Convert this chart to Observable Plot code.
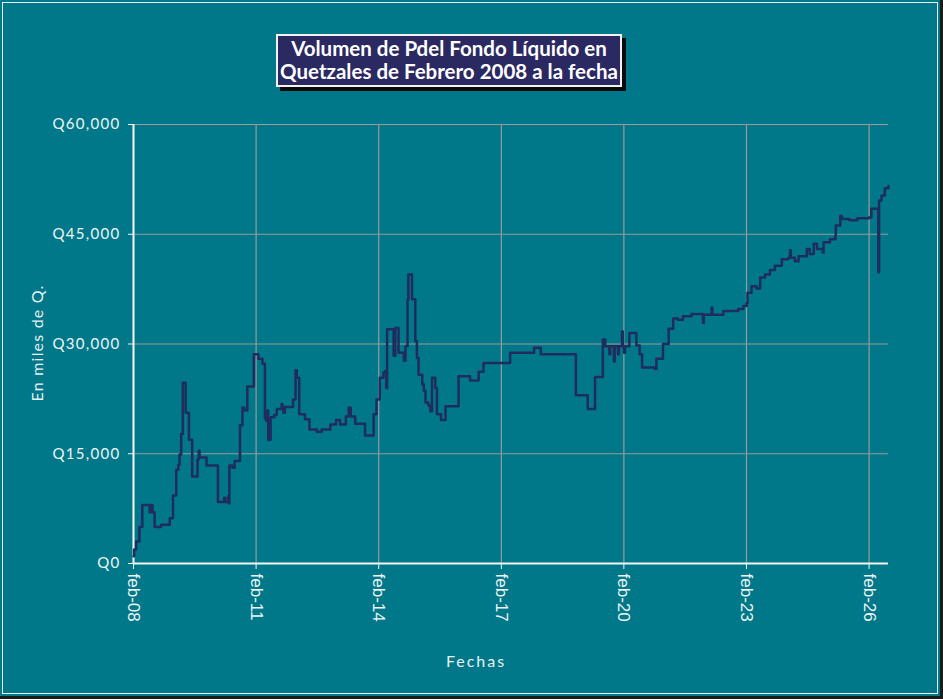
<!DOCTYPE html>
<html>
<head>
<meta charset="utf-8">
<script src="https://cdn.jsdelivr.net/npm/d3@7"></script>
<script src="https://cdn.jsdelivr.net/npm/@observablehq/plot@0.6"></script>
<style>
  html, body { margin: 0; padding: 0; background: #1a1a1a; }
  #frame { position: absolute; left: 0; top: 0; width: 940px; height: 696px; background: #007889; overflow: hidden; }
  #inner { position: absolute; left: 2px; top: 2px; width: 934px; height: 690px; border: 1px solid #e8f0f0; }
  #chart { position: absolute; left: 0; top: 0; }
  #title { position: absolute; left: 276px; top: 34px; width: 342px; height: 48px; background: #2b2961;
           border: 2px solid #f2f2f2; box-shadow: 4px 4px 0 #0a0a0a; color: #fff;
           font-family: Lato, "Open Sans", sans-serif; font-weight: 700; font-size: 20.5px; line-height: 23px;
           text-align: center; padding-top: 1px; white-space: nowrap; }
  #ylabel { position: absolute; left: 36px; top: 343px; transform: translate(-50%, -50%) rotate(-90deg);
            color: #e8f2f2; font-family: Lato, sans-serif; font-size: 16px; letter-spacing: 1.2px; white-space: nowrap; }
  #xlabel { position: absolute; left: 476px; top: 660px; transform: translate(-50%, -50%);
            color: #e8f2f2; font-family: Lato, sans-serif; font-size: 16px; letter-spacing: 2px; }
</style>
</head>
<body>
<div id="frame">
  <div id="inner"></div>
  <div id="chart"></div>
  <div id="title">Volumen de Pdel Fondo Líquido en<br>Quetzales de Febrero 2008 a la fecha</div>
  <div id="ylabel">En miles de Q.</div>
  <div id="xlabel">Fechas</div>
</div>
<script>
// Decimal years (time) and fund volume in thousands of quetzales
const years = [
  2008.085, 2008.10, 2008.15, 2008.23, 2008.30, 2008.48, 2008.53, 2008.55, 2008.60, 2008.76,
  2008.97, 2009.05, 2009.13, 2009.18, 2009.21, 2009.25, 2009.29, 2009.36, 2009.44, 2009.52,
  2009.65, 2009.68, 2009.70, 2009.87, 2010.15, 2010.30, 2010.33, 2010.40, 2010.42, 2010.43,
  2010.50, 2010.56, 2010.69, 2010.75, 2010.80, 2010.87, 2011.03, 2011.14, 2011.24, 2011.30,
  2011.33, 2011.36, 2011.38, 2011.44, 2011.53, 2011.59, 2011.71, 2011.73, 2011.75, 2011.79,
  2011.99, 2012.05, 2012.08, 2012.14, 2012.28, 2012.39, 2012.57, 2012.69, 2012.90, 2013.04,
  2013.14, 2013.28, 2013.35, 2013.40, 2013.51, 2013.75, 2013.96, 2014.03, 2014.11, 2014.20,
  2014.24, 2014.27, 2014.29, 2014.45, 2014.49, 2014.57, 2014.70, 2014.74, 2014.79, 2014.81,
  2014.90, 2014.98, 2015.02, 2015.06, 2015.15, 2015.19, 2015.23, 2015.30, 2015.35, 2015.39,
  2015.47, 2015.51, 2015.61, 2015.72, 2016.04, 2016.32, 2016.53, 2016.65, 2017.30, 2017.89,
  2018.05, 2018.91, 2019.20, 2019.38, 2019.57, 2019.63, 2019.73, 2019.75, 2019.84, 2019.86,
  2019.94, 2019.96, 2020.04, 2020.06, 2020.09, 2020.11, 2020.22, 2020.39, 2020.47, 2020.53,
  2020.84, 2020.88, 2021.04, 2021.18, 2021.29, 2021.40, 2021.53, 2021.74, 2022.02, 2022.04,
  2022.23, 2022.25, 2022.52, 2022.88, 2023.01, 2023.09, 2023.11, 2023.21, 2023.33, 2023.42,
  2023.54, 2023.66, 2023.78, 2023.95, 2024.11, 2024.15, 2024.17, 2024.27, 2024.36, 2024.56,
  2024.63, 2024.73, 2024.81, 2024.95, 2024.97, 2025.13, 2025.26, 2025.27, 2025.38, 2025.42,
  2025.60, 2025.80, 2026.08, 2026.14, 2026.31, 2026.33, 2026.39, 2026.47, 2026.56
];
const volumes = [
  1000, 1900, 3000, 5000, 8000, 7000, 8000, 7000, 5000, 5300,
  6200, 9300, 12800, 13500, 14900, 17700, 24700, 20600, 16900, 11900,
  14200, 15400, 14500, 13400, 8400, 9000, 8400, 9200, 8200, 13400,
  13100, 14000, 18900, 21300, 20900, 24200, 28600, 28000, 27300, 19900,
  19500, 20900, 16900, 20000, 20300, 21100, 21800, 21100, 20600, 21400,
  22400, 26400, 25400, 20400, 19700, 18300, 18000, 18300, 19000, 19600,
  19000, 20100, 21300, 20100, 19100, 17500, 20400, 22400, 25400, 26100,
  26300, 24000, 32000, 28400, 32200, 28800, 27700, 29700, 36000, 39500,
  36100, 30400, 28100, 25800, 24500, 23600, 22000, 21600, 20800, 25400,
  24000, 20400, 19600, 21500, 25600, 25000, 26200, 27400, 28800, 29500,
  28600, 23000, 21100, 25500, 30600, 29700, 28600, 29700, 27600, 29700,
  28600, 29700, 31700, 29700, 28800, 29700, 31500, 29800, 28600, 26800,
  26600, 28000, 30000, 32100, 33500, 33300, 33800, 34100, 32900, 34000,
  35000, 34000, 34500, 34800, 35200, 35600, 37000, 37900, 37600, 39100,
  39500, 40100, 40700, 41600, 41800, 42800, 41800, 41300, 42000, 43000,
  42300, 43700, 43000, 42500, 43900, 44300, 44800, 46200, 47500, 47100,
  46900, 47200, 47300, 48500, 39800, 49600, 50300, 51300, 51600
];
const tickYears = [2008, 2011, 2014, 2017, 2020, 2023, 2026];
const tickLabels = ["feb-08", "feb-11", "feb-14", "feb-17", "feb-20", "feb-23", "feb-26"];
const yTicks = [0, 15000, 30000, 45000, 60000];

function dy(t) {
  const y = Math.floor(t);
  const s = Date.UTC(y, 0, 1), e = Date.UTC(y + 1, 0, 1);
  return new Date(s + (t - y) * (e - s));
}
const data = years.map((t, i) => ({date: dy(t), value: volumes[i]}));
const tickDates = tickYears.map(y => new Date(Date.UTC(y, 1, 1)));
const labelOf = new Map(tickDates.map((d, i) => [+d, tickLabels[i]]));
const x0 = dy(years[0]), x1 = dy(years[years.length - 1]);

const chart = Plot.plot({
  width: 940, height: 696,
  marginLeft: 133, marginRight: 52, marginTop: 124, marginBottom: 133,
  style: {background: "transparent", color: "#eef5f5", overflow: "visible"},
  x: {type: "utc", domain: [x0, x1]},
  y: {domain: [0, 60000]},
  marks: [
    Plot.gridX(tickDates, {stroke: "#9a9a9a", strokeOpacity: 1, strokeWidth: 1.2}),
    Plot.gridY(yTicks.slice(1), {stroke: "#9a9a9a", strokeOpacity: 1, strokeWidth: 1.2}),
    Plot.ruleY([0], {stroke: "#f2f6f6", strokeWidth: 2}),
    Plot.ruleX([x0], {stroke: "#f2f6f6", strokeWidth: 2}),
    Plot.axisY({ticks: yTicks, tickSize: 5, tickPadding: 8, stroke: "#f2f6f6",
                tickFormat: d => "Q" + d3.format(",")(d),
                fontFamily: "Lato, sans-serif", fontSize: 15, label: null}),
    Plot.axisX({ticks: tickDates, tickSize: 6, tickPadding: 4, tickRotate: 90, stroke: "#f2f6f6",
                tickFormat: d => labelOf.get(+d),
                fontFamily: "'Liberation Sans', Arial, sans-serif", fontSize: 17, label: null}),
    Plot.line(data, {x: "date", y: "value", curve: "step-after", stroke: "#1f2d5e", strokeWidth: 2.5})
  ]
});
chart.querySelectorAll("[aria-label='y-axis tick label'] text").forEach(t => t.setAttribute("letter-spacing", "1.3"));
document.getElementById("chart").appendChild(chart);
</script>
</body>
</html>
